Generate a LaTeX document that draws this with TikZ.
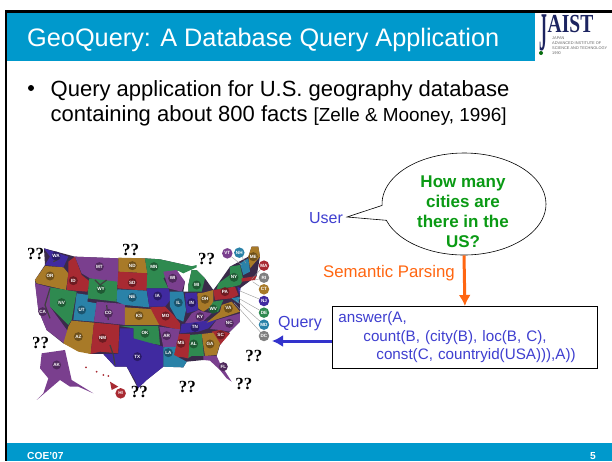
\documentclass[tikz,border=0pt]{standalone}
\usepackage{fontspec}
\setmainfont{Liberation Sans}
\newfontfamily\serifq{Liberation Serif}
\usetikzlibrary{arrows.meta,shapes.callouts}

\definecolor{slideblue}{HTML}{0099CC}
\definecolor{labelblue}{HTML}{3F3FD0}
\definecolor{arrowblue}{HTML}{3333CC}
\definecolor{askgreen}{HTML}{0A9A14}
\definecolor{parseorange}{HTML}{FF6611}
\definecolor{logonavy}{HTML}{1C2460}
\definecolor{stochre}{HTML}{A87A28}
\definecolor{stred}{HTML}{A82A32}
\definecolor{stgreen}{HTML}{2F8A50}
\definecolor{stpurple}{HTML}{7A3F8E}
\definecolor{stindigo}{HTML}{402AA0}
\definecolor{stteal}{HTML}{2A82A8}
\definecolor{stdark}{HTML}{3A2A4A}

\begin{document}
\begin{tikzpicture}[x=1pt,y=1pt,
slidetext/.style={anchor=base west, inner sep=0pt, font=\fontsize{22}{26}\selectfont},
user/.style={text=labelblue, inner sep=0pt, font=\fontsize{16}{20}\selectfont},
bubble/.style={ellipse callout, draw=black, fill=white, line width=0.6pt, minimum width=164pt, minimum height=102pt, callout pointer arc=17},
ask/.style={text=askgreen, align=center, inner sep=0pt, font=\fontsize{17}{20}\selectfont\bfseries},
query/.style={draw=black, line width=0.8pt, fill=white, text=labelblue, align=left, anchor=north west, inner sep=0pt, minimum width=265pt, minimum height=62pt, text width=265pt, font=\fontsize{15.2}{18.5}\selectfont},
orangearrow/.style={draw=parseorange, line width=3pt, -{Latex[length=11pt,width=12pt]}},
bluearrow/.style={draw=arrowblue, line width=3pt, -{Latex[length=11pt,width=12pt]}},
unknown/.style={inner sep=0pt, font=\fontsize{17}{17}\selectfont\serifq\bfseries},
statelab/.style={text=white, circle, fill=#1!65!black, inner sep=0.4pt, minimum size=9pt, font=\fontsize{4.6}{5}\selectfont\bfseries},
sidelab/.style={text=white, circle, fill=#1, inner sep=0.4pt, minimum size=10.5pt, font=\fontsize{4.6}{5}\selectfont\bfseries},
leader/.style={draw=gray!80, line width=0.4pt}]

\useasboundingbox (0,0) rectangle (612,-461);
\fill[white] (0,0) rectangle (612,-461);

% slide frame, title and footer
\fill[black] (5,-10) rectangle (612,-13);
\fill[black] (5,-10) rectangle (7,-461);
\fill[slideblue] (7,-13) rectangle (535,-61);
\fill[slideblue] (7,-443) rectangle (612,-461);
\draw (27,-46) node[anchor=base west, inner sep=0pt, text=white, font=\fontsize{25.3}{30}\selectfont] (Title) {GeoQuery: A Database Query Application};
\draw (27,-459.5) node[anchor=base west, inner sep=0pt, text=white, font=\fontsize{10.2}{12}\selectfont\bfseries] (Conf) {COE'07};
\draw (590,-459.5) node[anchor=base west, inner sep=0pt, text=white, font=\fontsize{10.2}{12}\selectfont\bfseries] (Page) {5};

% logo
\draw (570.5,-24.5) node[inner sep=0pt, text=logonavy, font=\fontsize{26}{26}\selectfont\serifq\bfseries] (LogoAIST) {\scalebox{.75}[1]{AIST}};
\draw (543.5,-33) node[inner sep=0pt, text=logonavy, font=\fontsize{26}{26}\selectfont\serifq\bfseries] (LogoJ) {\scalebox{.6}[2.1]{J}};
\draw (541,-53) node[circle, fill=askgreen!70!black, inner sep=0pt, minimum size=4pt] (LogoDot) {};
\draw (552,-37) node[anchor=north west, inner sep=0pt, align=left, text=black!60, font=\fontsize{3.9}{4.8}\selectfont] (LogoName) {JAPAN\\ADVANCED INSTITUTE OF\\SCIENCE AND TECHNOLOGY\\1990};

% bullet
\draw (31,-88) node[circle, fill=black, inner sep=0pt, minimum size=6pt] (Dot) {};
\draw (50.5,-96) node[slidetext] (Line1) {Query application for U.S. geography database};
\draw (50.5,-121) node[slidetext] (Line2) {containing about 800 facts \fontsize{18.9}{22}\selectfont [Zelle \& Mooney, 1996]};

% the map
\begin{scope}[shift={(0,-230)},x=0.3333pt,y=-0.3333pt]
\fill[stdark] (132,55)--(225,80)--(355,85)--(435,85)--(480,88)--(580,110)--(520,125)--(555,155)--(550,185)--(565,185)--(565,165)--(575,120)--(590,120)--(615,145)--(640,180)--(655,160)--(690,110)--(745,80)--(755,50)--(775,50)--(780,80)--(770,138)--(720,175)--(720,275)--(690,305)--(660,345)--(650,378)--(610,390)--(560,395)--(550,412)--(490,410)--(440,450)--(414,475)--(380,410)--(345,410)--(310,372)--(272,372)--(190,340)--(140,300)--(115,240)--(105,150)--(135,105)--cycle;
\fill[stindigo] (132,55)--(205,80)--(190,112)--(135,105)--(150,80)--cycle;
\fill[stochre] (105,150)--(135,108)--(190,112)--(205,130)--(198,180)--(110,160)--cycle;
\fill[stpurple] (105,160)--(150,172)--(150,230)--(215,320)--(190,338)--(140,300)--(115,240)--cycle;
\fill[stgreen] (150,172)--(230,185)--(215,270)--(205,285)--(150,230)--cycle;
\fill[stred] (205,95)--(225,80)--(245,135)--(270,155)--(262,185)--(200,180)--(205,130)--cycle;
\fill[stpurple] (225,80)--(355,85)--(355,165)--(270,145)--(245,130)--cycle;
\fill[stgreen] (268,145)--(352,155)--(350,215)--(262,205)--cycle;
\fill[stteal] (230,190)--(265,195)--(262,215)--(290,220)--(282,275)--(220,270)--cycle;
\fill[stpurple] (290,215)--(375,222)--(375,285)--(282,275)--cycle;
\fill[stochre] (215,272)--(282,278)--(272,372)--(235,365)--(190,340)--(205,290)--cycle;
\fill[stred] (282,278)--(358,285)--(355,370)--(300,365)--(272,372)--cycle;
\fill[stochre] (355,83)--(435,85)--(442,130)--(355,125)--cycle;
\fill[stred] (355,125)--(442,130)--(440,182)--(352,175)--cycle;
\fill[stteal] (352,178)--(440,182)--(448,232)--(375,225)--(350,215)--cycle;
\fill[stochre] (375,232)--(465,238)--(478,285)--(375,285)--cycle;
\fill[stgreen] (360,288)--(475,288)--(480,345)--(420,335)--(400,325)--(400,295)--cycle;
\fill[stindigo] (360,295)--(400,295)--(400,325)--(490,350)--(490,410)--(440,450)--(414,475)--(405,450)--(380,410)--(345,410)--(310,372)--(355,372)--cycle;
\fill[stgreen] (435,85)--(480,88)--(580,110)--(520,125)--(490,145)--(505,175)--(440,175)--(442,130)--cycle;
\fill[stpurple] (490,125)--(530,120)--(555,155)--(545,185)--(505,175)--cycle;
\fill[stindigo] (440,175)--(505,175)--(515,205)--(495,230)--(448,230)--cycle;
\fill[stred] (450,232)--(495,230)--(520,255)--(540,280)--(540,300)--(478,285)--cycle;
\fill[stteal] (510,185)--(550,185)--(558,240)--(550,275)--(530,265)--(510,230)--cycle;
\fill[stindigo] (555,190)--(590,188)--(595,240)--(560,250)--cycle;
\fill[stgreen] (565,165)--(575,120)--(590,120)--(615,145)--(605,185)--(565,185)--cycle;
\fill[stgreen] (530,120)--(590,105)--(590,112)--(550,130)--cycle;
\fill[stochre] (592,190)--(610,188)--(640,180)--(640,225)--(610,245)--(595,235)--cycle;
\fill[stpurple] (555,280)--(575,250)--(595,240)--(610,245)--(635,250)--(605,278)--cycle;
\fill[stindigo] (540,310)--(545,282)--(650,268)--(625,295)--(595,305)--cycle;
\fill[stgreen] (640,215)--(670,210)--(655,245)--(635,250)--(625,240)--cycle;
\fill[stochre] (665,225)--(695,215)--(720,245)--(650,268)--(620,278)--(660,245)--cycle;
\fill[stpurple] (720,250)--(720,275)--(690,305)--(660,300)--(630,297)--(650,270)--cycle;
\fill[stred] (635,305)--(660,300)--(690,310)--(660,345)--cycle;
\fill[stochre] (605,312)--(640,308)--(660,340)--(650,375)--(615,378)--cycle;
\fill[stgreen] (567,315)--(605,312)--(612,378)--(575,378)--(563,385)--cycle;
\fill[stred] (530,312)--(570,312)--(565,385)--(540,380)--(520,392)--cycle;
\fill[stpurple] (478,290)--(540,298)--(528,350)--(490,352)--cycle;
\fill[stteal] (490,352)--(528,350)--(522,375)--(560,395)--(550,412)--(490,410)--cycle;
\fill[stpurple] (610,378)--(650,378)--(660,400)--(695,455)--(680,445)--(660,420)--(630,392)--(610,390)--cycle;
\fill[stred] (640,180)--(705,170)--(715,195)--(695,205)--(645,210)--cycle;
\fill[stgreen] (655,160)--(690,135)--(690,110)--(720,105)--(730,150)--(720,165)--(700,170)--(650,178)--cycle;
\fill[stochre] (745,80)--(755,50)--(775,50)--(780,80)--(750,115)--cycle;
\fill[stteal] (720,100)--(745,85)--(750,125)--(730,135)--cycle;
\fill[stred] (725,145)--(770,138)--(765,150)--(725,155)--cycle;
\fill[stindigo] (712,170)--(722,175)--(718,195)--cycle;
\fill[stteal] (695,205)--(720,200)--(715,220)--cycle;
\fill[stpurple] (125,370)--(195,360)--(215,450)--(280,490)--(235,470)--(210,470)--(180,450)--(110,510)--(130,490)--(145,445)--(120,415)--cycle;
\fill[stred] (330,455)--(355,470)--(335,480)--cycle;
\fill[stred] (258,412) circle (3);
\fill[stred] (290,425) circle (3);
\fill[stred] (310,435) circle (3);
\fill[stred] (325,438) circle (3);

% dark mountain strokes
\draw[black!75, line width=1.2pt] (150,175)--(135,225)--(150,265);
\draw[black!75, line width=1.2pt] (285,150)--(300,165)--(320,150);
\draw[black!75, line width=1.2pt] (320,225)--(325,270);
\draw[black!75, line width=1.2pt] (180,85)--(160,95);
\draw[black!75, line width=1.2pt] (330,345)--(340,375)--(345,405);

\node[statelab=stindigo] (WA) at (168,78) {WA};
\node[statelab=stochre] (OR) at (150,138) {OR};
\node[statelab=stpurple] (CA) at (128,245) {CA};
\node[statelab=stgreen] (NV) at (185,218) {NV};
\node[statelab=stred] (ID) at (220,152) {ID};
\node[statelab=stpurple] (MT) at (298,110) {MT};
\node[statelab=stgreen] (WY) at (303,178) {WY};
\node[statelab=stteal] (UT) at (245,240) {UT};
\node[statelab=stpurple] (CO) at (325,250) {CO};
\node[statelab=stochre] (AZ) at (235,320) {AZ};
\node[statelab=stred] (NM) at (308,325) {NM};
\node[statelab=stochre] (ND) at (397,107) {ND};
\node[statelab=stred] (SD) at (397,158) {SD};
\node[statelab=stteal] (NE) at (397,202) {NE};
\node[statelab=stochre] (KS) at (417,257) {KS};
\node[statelab=stgreen] (OK) at (435,310) {OK};
\node[statelab=stindigo] (TX) at (412,380) {TX};
\node[statelab=stgreen] (MN) at (462,110) {MN};
\node[statelab=stpurple] (WI) at (518,145) {WI};
\node[statelab=stindigo] (IA) at (473,198) {IA};
\node[statelab=stred] (MO) at (497,258) {MO};
\node[statelab=stteal] (IL) at (535,218) {IL};
\node[statelab=stindigo] (IN) at (575,218) {IN};
\node[statelab=stgreen] (MI) at (590,165) {MI};
\node[statelab=stochre] (OH) at (615,208) {OH};
\node[statelab=stpurple] (KY) at (600,260) {KY};
\node[statelab=stindigo] (TN) at (585,292) {TN};
\node[statelab=stgreen] (WV) at (640,237) {WV};
\node[statelab=stochre] (VA) at (685,235) {VA};
\node[statelab=stpurple] (NC) at (688,280) {NC};
\node[statelab=stred] (SC) at (662,315) {SC};
\node[statelab=stochre] (GA) at (630,342) {GA};
\node[statelab=stgreen] (AL) at (581,342) {AL};
\node[statelab=stred] (MS) at (543,340) {MS};
\node[statelab=stpurple] (AR) at (500,317) {AR};
\node[statelab=stteal] (LA) at (505,368) {LA};
\node[statelab=stpurple] (FL) at (670,410) {FL};
\node[statelab=stred] (PA) at (675,185) {PA};
\node[statelab=stgreen] (NY) at (702,142) {NY};
\node[statelab=stochre] (ME) at (760,80) {ME};
\node[statelab=stpurple] (AK) at (170,405) {AK};

\coordinate (VTend) at (725,105);
\coordinate (NHend) at (738,100);
\coordinate (MAend) at (755,148);
\coordinate (RIend) at (765,150);
\coordinate (CTend) at (758,155);
\coordinate (NJend) at (718,182);
\coordinate (DEend) at (716,205);
\coordinate (MDend) at (708,210);
\coordinate (DCend) at (702,218);

\node[sidelab=stpurple] (VT) at (682,70) {VT};
\node[sidelab=stteal] (NH) at (718,68) {NH};
\node[sidelab=stred] (MA) at (792,107) {MA};
\node[sidelab=gray] (RI) at (792,143) {RI};
\node[sidelab=stochre] (CT) at (792,178) {CT};
\node[sidelab=stindigo] (NJ) at (792,213) {NJ};
\node[sidelab=stgreen] (DE) at (792,248) {DE};
\node[sidelab=stteal] (MD) at (792,284) {MD};
\node[sidelab=gray] (DC) at (792,318) {DC};
\node[sidelab=stred] (HI) at (362,490) {HI};

\draw[leader] (VT)--(VTend);
\draw[leader] (NH)--(NHend);
\draw[leader] (MA)--(MAend);
\draw[leader] (RI)--(RIend);
\draw[leader] (CT)--(CTend);
\draw[leader] (NJ)--(NJend);
\draw[leader] (DE)--(DEend);
\draw[leader] (MD)--(MDend);
\draw[leader] (DC)--(DCend);

\node[unknown] (Q1) at (107,72) {??};
\node[unknown] (Q2) at (392,60) {??};
\node[unknown] (Q3) at (620,86) {??};
\node[unknown] (Q4) at (122,340) {??};
\node[unknown] (Q5) at (762,378) {??};
\node[unknown] (Q6) at (562,470) {??};
\node[unknown] (Q7) at (418,487) {??};
\node[unknown] (Q8) at (732,463) {??};
\end{scope}

% speech bubble and query box
\draw (464,-204) node[bubble, callout absolute pointer={(347,-217)}] (Bubble) {};
\draw (463,-212) node[ask] (Ask) {How many\\cities are\\there in the\\US?};
\draw (326,-218) node[user] (User) {User};
\draw (389,-273) node[user, text=parseorange, font=\fontsize{16.8}{20}\selectfont] (Parse) {Semantic Parsing};
\draw (332,-306) node[query] (Box) {\hspace*{6pt}answer(A,\\\hspace*{31pt}count(B, (city(B), loc(B, C),\\\hspace*{44pt}const(C, countryid(USA))),A))};
\draw (300,-324) node[user] (Query) {Query};
\coordinate (QueryTip) at (272,-341);

\draw[orangearrow] (Bubble.south)--(Box.north);
\draw[bluearrow] (Box.west|-QueryTip)--(QueryTip);

\end{tikzpicture}
\end{document}
